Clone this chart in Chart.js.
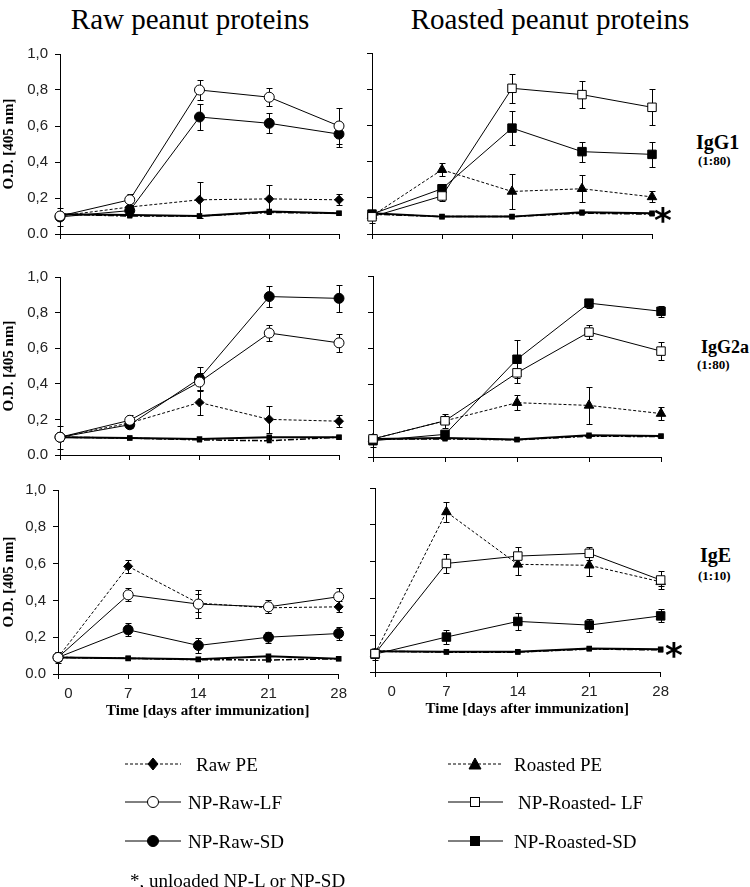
<!DOCTYPE html>
<html>
<head>
<meta charset="utf-8">
<script src="https://cdn.jsdelivr.net/npm/chart.js@4.4.0/dist/chart.umd.min.js"></script>
<style>
body { margin: 0; background: #fff; }
#wrap { position: relative; width: 750px; height: 887px; overflow: hidden; font-family: "Liberation Serif", serif; color: #000; }
canvas { position: absolute; }
.t { position: absolute; white-space: nowrap; line-height: 1; }
.c { transform: translate(-50%, -50%); }
.l { transform: translateY(-50%); }
.b { font-weight: bold; }
</style>
</head>
<body>
<div id="wrap">
  <canvas id="g1raw"></canvas>
  <canvas id="g1rst"></canvas>
  <canvas id="g2raw"></canvas>
  <canvas id="g2rst"></canvas>
  <canvas id="eraw"></canvas>
  <canvas id="erst"></canvas>

  <div class="t c" style="left:190px; top:19px; font-size:29px;">Raw peanut proteins</div>
  <div class="t c" style="left:550px; top:19px; font-size:29px;">Roasted peanut proteins</div>

  <div class="t l b" style="left:696px; top:142px; font-size:20px;">IgG1</div>
  <div class="t l b" style="left:698px; top:160px; font-size:13px;">(1:80)</div>
  <div class="t l b" style="left:701px; top:347px; font-size:18px;">IgG2a</div>
  <div class="t l b" style="left:697px; top:364px; font-size:13px;">(1:80)</div>
  <div class="t l b" style="left:700px; top:555px; font-size:20px;">IgE</div>
  <div class="t l b" style="left:698px; top:575px; font-size:13px;">(1:10)</div>

  <div class="t c b" style="left:663px; top:220px; font-size:34px; font-family:'DejaVu Sans';">*</div>
  <div class="t c b" style="left:674px; top:655px; font-size:34px; font-family:'DejaVu Sans';">*</div>

  <svg style="position:absolute; left:0; top:0;" width="750" height="887">
    <g stroke="#000" stroke-width="1" fill="#000">
      <line x1="125" y1="764" x2="181" y2="764" stroke-dasharray="3,2"/>
      <polygon points="153,758 158,764 153,770 148,764"/>
      <line x1="448" y1="764" x2="503" y2="764" stroke-dasharray="3,2"/>
      <polygon points="475,758 481,769 469,769"/>
      <line x1="125" y1="802" x2="181" y2="802"/>
      <circle cx="153" cy="802" r="5.5" fill="#fff"/>
      <line x1="448" y1="802" x2="503" y2="802"/>
      <rect x="470.5" y="797.5" width="9" height="9" fill="#fff"/>
      <line x1="125" y1="841" x2="181" y2="841"/>
      <circle cx="153" cy="841" r="5.5"/>
      <line x1="448" y1="841" x2="503" y2="841"/>
      <rect x="470.5" y="836.5" width="9" height="9"/>
    </g>
  </svg>
  <div class="t l" style="left:196px; top:764px; font-size:19px;">Raw PE</div>
  <div class="t l" style="left:514px; top:764px; font-size:19px;">Roasted PE</div>
  <div class="t l" style="left:188px; top:802px; font-size:19px;">NP-Raw-LF</div>
  <div class="t l" style="left:518px; top:802px; font-size:19px;">NP-Roasted- LF</div>
  <div class="t l" style="left:188px; top:841px; font-size:19px;">NP-Raw-SD</div>
  <div class="t l" style="left:514px; top:841px; font-size:19px;">NP-Roasted-SD</div>
  <div class="t l" style="left:130px; top:880px; font-size:19px;">*, unloaded NP-L or NP-SD</div>
</div>
<script>
// dias y etiquetas
const days = [0, 7, 14, 21, 28];
const yLabels = ['0.0', '0,2', '0,4', '0,6', '0,8', '1,0'];

// IgG1 (1:80)
const rawPE_G1 = [0.10, 0.15, 0.19, 0.195, 0.19];
const rawPE_G1_err = [0.02, 0.02, 0.10, 0.075, 0.03];
const rawLF_G1 = [0.10, 0.19, 0.80, 0.76, 0.60];
const rawLF_G1_err = [0.02, 0.03, 0.055, 0.05, 0.10];
const rawSD_G1 = [0.095, 0.13, 0.65, 0.615, 0.555];
const rawSD_G1_err = [0.05, 0.02, 0.07, 0.055, 0.07];
const rawBlL_G1 = [0.11, 0.105, 0.10, 0.125, 0.115];
const rawBlS_G1 = [0.11, 0.10, 0.10, 0.12, 0.115];

const rstPE_G1 = [0.10, 0.355, 0.235, 0.25, 0.205];
const rstPE_G1_err = [0.02, 0.035, 0.095, 0.075, 0.03];
const rstLF_G1 = [0.095, 0.21, 0.805, 0.77, 0.70];
const rstLF_G1_err = [0.035, 0.03, 0.08, 0.075, 0.10];
const rstSD_G1 = [0.11, 0.25, 0.585, 0.455, 0.44];
const rstSD_G1_err = [0.02, 0.02, 0.095, 0.055, 0.07];
const rstBlL_G1 = [0.115, 0.096, 0.096, 0.12, 0.115];
const rstBlS_G1 = [0.11, 0.096, 0.096, 0.115, 0.11];

// IgG2a (1:80)
const rawPE_G2 = [0.10, 0.18, 0.295, 0.20, 0.19];
const rawPE_G2_err = [0.02, 0.02, 0.07, 0.075, 0.035];
const rawLF_G2 = [0.10, 0.195, 0.41, 0.685, 0.63];
const rawLF_G2_err = [0.02, 0.03, 0.05, 0.045, 0.05];
const rawSD_G2 = [0.10, 0.17, 0.43, 0.89, 0.88];
const rawSD_G2_err = [0.065, 0.02, 0.065, 0.06, 0.075];
const rawBlL_G2 = [0.10, 0.095, 0.09, 0.10, 0.10];
const rawBlS_G2 = [0.10, 0.095, 0.085, 0.08, 0.10];

const rstPE_G2 = [0.10, 0.20, 0.30, 0.285, 0.24];
const rstPE_G2_err = [0.02, 0.02, 0.04, 0.10, 0.035];
const rstLF_G2 = [0.10, 0.20, 0.465, 0.69, 0.585];
const rstLF_G2_err = [0.02, 0.04, 0.055, 0.04, 0.05];
const rstSD_G2 = [0.09, 0.125, 0.54, 0.85, 0.805];
const rstSD_G2_err = [0.035, 0.02, 0.105, 0.025, 0.03];
const rstBlL_G2 = [0.10, 0.105, 0.097, 0.12, 0.116];
const rstBlS_G2 = [0.10, 0.10, 0.095, 0.115, 0.113];

// IgE (1:10)
const rawPE_E = [0.09, 0.585, 0.385, 0.36, 0.365];
const rawPE_E_err = [0.02, 0.035, 0.05, 0.03, 0.03];
const rawLF_E = [0.09, 0.43, 0.38, 0.365, 0.42];
const rawLF_E_err = [0.02, 0.035, 0.075, 0.035, 0.05];
const rawSD_E = [0.09, 0.24, 0.155, 0.20, 0.22];
const rawSD_E_err = [0.03, 0.035, 0.04, 0.03, 0.035];
const rawBlL_E = [0.09, 0.085, 0.08, 0.097, 0.083];
const rawBlS_E = [0.09, 0.085, 0.078, 0.076, 0.083];

const rstPE_E = [0.10, 0.87, 0.585, 0.58, 0.49];
const rstPE_E_err = [0.02, 0.055, 0.06, 0.06, 0.02];
const rstLF_E = [0.10, 0.59, 0.63, 0.645, 0.50];
const rstLF_E_err = [0.02, 0.05, 0.05, 0.035, 0.05];
const rstSD_E = [0.097, 0.19, 0.275, 0.255, 0.305];
const rstSD_E_err = [0.03, 0.04, 0.045, 0.035, 0.035];
const rstBlL_E = [0.113, 0.11, 0.11, 0.128, 0.123];
const rstBlS_E = [0.113, 0.108, 0.108, 0.125, 0.12];

Chart.defaults.font.family = 'Liberation Sans';
Chart.defaults.font.size = 15;
Chart.defaults.color = '#222';

function pts(vals) {
    return days.map((d, i) => ({ x: d, y: vals[i] }));
}

function serie(vals, errs, estilo) {
    const ds = {
        data: pts(vals),
        errors: errs,
        borderColor: '#000',
        borderWidth: 1,
        pointBorderColor: '#000',
        pointBorderWidth: 1,
        clip: false
    };
    if (estilo === 'pe') {
        ds.borderDash = [3, 2];
        ds.pointStyle = 'rectRot'; ds.pointRadius = 4.5; ds.pointBackgroundColor = '#000';
    } else if (estilo === 'tri') {
        ds.borderDash = [3, 2];
        ds.pointStyle = 'triangle'; ds.pointRadius = 5.5; ds.pointBackgroundColor = '#000';
    } else if (estilo === 'oc') {
        ds.pointStyle = 'circle'; ds.pointRadius = 5; ds.pointBackgroundColor = '#fff';
    } else if (estilo === 'fc') {
        ds.pointStyle = 'circle'; ds.pointRadius = 5; ds.pointBackgroundColor = '#000';
    } else if (estilo === 'os') {
        ds.pointStyle = 'rect'; ds.pointRadius = 6; ds.pointBackgroundColor = '#fff';
    } else if (estilo === 'fs') {
        ds.pointStyle = 'rect'; ds.pointRadius = 6; ds.pointBackgroundColor = '#000';
    }
    return ds;
}

function base(vals, dashed) {
    return {
        data: pts(vals),
        borderColor: '#000',
        borderWidth: dashed ? 1.5 : 2,
        borderDash: dashed ? [6, 2, 2, 2] : [],
        pointStyle: 'rect',
        pointRadius: 2.5,
        pointBackgroundColor: '#000',
        pointBorderColor: '#000',
        clip: false
    };
}

const errorBars = {
    id: 'errorBars',
    beforeDatasetsDraw(chart) {
        const ctx = chart.ctx;
        const xs = chart.scales.x, ys = chart.scales.y;
        ctx.save();
        ctx.strokeStyle = '#000';
        ctx.lineWidth = 1;
        chart.data.datasets.forEach(ds => {
            if (!ds.errors) return;
            ds.data.forEach((p, i) => {
                const e = ds.errors[i];
                const px = Math.round(xs.getPixelForValue(p.x)) + 0.5;
                const top = Math.round(ys.getPixelForValue(p.y + e)) + 0.5;
                const bot = Math.round(ys.getPixelForValue(p.y - e)) + 0.5;
                ctx.beginPath();
                ctx.moveTo(px, top); ctx.lineTo(px, bot);
                ctx.moveTo(px - 3, top); ctx.lineTo(px + 3, top);
                ctx.moveTo(px - 3, bot); ctx.lineTo(px + 3, bot);
                ctx.stroke();
            });
        });
        ctx.restore();
    }
};

function panel(id, pos, sets) {
    const cv = document.getElementById(id);
    cv.width = pos.w; cv.height = pos.h;
    cv.style.left = pos.left + 'px'; cv.style.top = pos.top + 'px';
    return new Chart(cv, {
        type: 'line',
        data: { datasets: sets },
        plugins: [errorBars],
        options: {
            responsive: false,
            animation: false,
            layout: { autoPadding: false, padding: { top: 15, right: 14, left: 0, bottom: 0 } },
            plugins: { legend: { display: false }, tooltip: { enabled: false } },
            scales: {
                x: {
                    type: 'linear', min: 0, max: 28,
                    ticks: {
                        display: pos.xlab, stepSize: 7, padding: 6, color: '#222',
                        callback: v => v === 0 ? ' '.repeat(pos.shift || 0) + '0' : String(v)
                    },
                    grid: { display: true, drawOnChartArea: false, drawTicks: true, tickLength: 5, color: '#000' },
                    border: { display: true, color: '#000', width: 1 },
                    title: {
                        display: pos.xlab, text: '     Time [days after immunization]', color: '#000',
                        font: { family: 'Liberation Serif', weight: 'bold', size: 15 },
                        padding: { top: 0, bottom: 2 }
                    },
                    afterFit: s => { s.height = pos.xH; }
                },
                y: {
                    min: 0, max: 1,
                    ticks: {
                        display: pos.ylab, stepSize: 0.2, padding: 7, color: '#222',
                        callback: (v, i) => yLabels[i]
                    },
                    grid: { display: true, drawOnChartArea: false, drawTicks: true, tickLength: 5, color: '#000' },
                    border: { display: true, color: '#000', width: 1 },
                    title: {
                        display: pos.ylab, text: 'O.D. [405 nm]', color: '#000',
                        font: { family: 'Liberation Serif', weight: 'bold', size: 15 },
                        padding: 0
                    },
                    afterFit: s => { s.width = pos.yW; }
                }
            }
        }
    });
}

panel('g1raw', { left: 0, top: 38, w: 353, h: 212, yW: 60, xH: 14, ylab: true, xlab: false }, [
    serie(rawLF_G1, rawLF_G1_err, 'oc'),
    serie(rawSD_G1, rawSD_G1_err, 'fc'),
    serie(rawPE_G1, rawPE_G1_err, 'pe'),
    base(rawBlL_G1, false),
    base(rawBlS_G1, true)
]);
panel('g1rst', { left: 364, top: 38, w: 302, h: 210, yW: 8, xH: 14, ylab: false, xlab: false }, [
    serie(rstLF_G1, rstLF_G1_err, 'os'),
    serie(rstSD_G1, rstSD_G1_err, 'fs'),
    serie(rstPE_G1, rstPE_G1_err, 'tri'),
    base(rstBlL_G1, false),
    base(rstBlS_G1, true)
]);
panel('g2raw', { left: 0, top: 261, w: 353, h: 210, yW: 60, xH: 14, ylab: true, xlab: false }, [
    serie(rawLF_G2, rawLF_G2_err, 'oc'),
    serie(rawSD_G2, rawSD_G2_err, 'fc'),
    serie(rawPE_G2, rawPE_G2_err, 'pe'),
    base(rawBlL_G2, false),
    base(rawBlS_G2, true)
]);
panel('g2rst', { left: 365, top: 261, w: 310, h: 210, yW: 8, xH: 14, ylab: false, xlab: false }, [
    serie(rstLF_G2, rstLF_G2_err, 'os'),
    serie(rstSD_G2, rstSD_G2_err, 'fs'),
    serie(rstPE_G2, rstPE_G2_err, 'tri'),
    base(rstBlL_G2, false),
    base(rstBlS_G2, true)
]);
panel('eraw', { left: 0, top: 474, w: 353, h: 248, yW: 58, xH: 48, ylab: true, xlab: true, shift: 5 }, [
    serie(rawLF_E, rawLF_E_err, 'oc'),
    serie(rawSD_E, rawSD_E_err, 'fc'),
    serie(rawPE_E, rawPE_E_err, 'pe'),
    base(rawBlL_E, false),
    base(rawBlS_E, true)
]);
panel('erst', { left: 347, top: 473, w: 328, h: 247, yW: 28, xH: 48, ylab: false, xlab: true, shift: 8 }, [
    serie(rstLF_E, rstLF_E_err, 'os'),
    serie(rstSD_E, rstSD_E_err, 'fs'),
    serie(rstPE_E, rstPE_E_err, 'tri'),
    base(rstBlL_E, false),
    base(rstBlS_E, true)
]);
</script>
</body>
</html>
